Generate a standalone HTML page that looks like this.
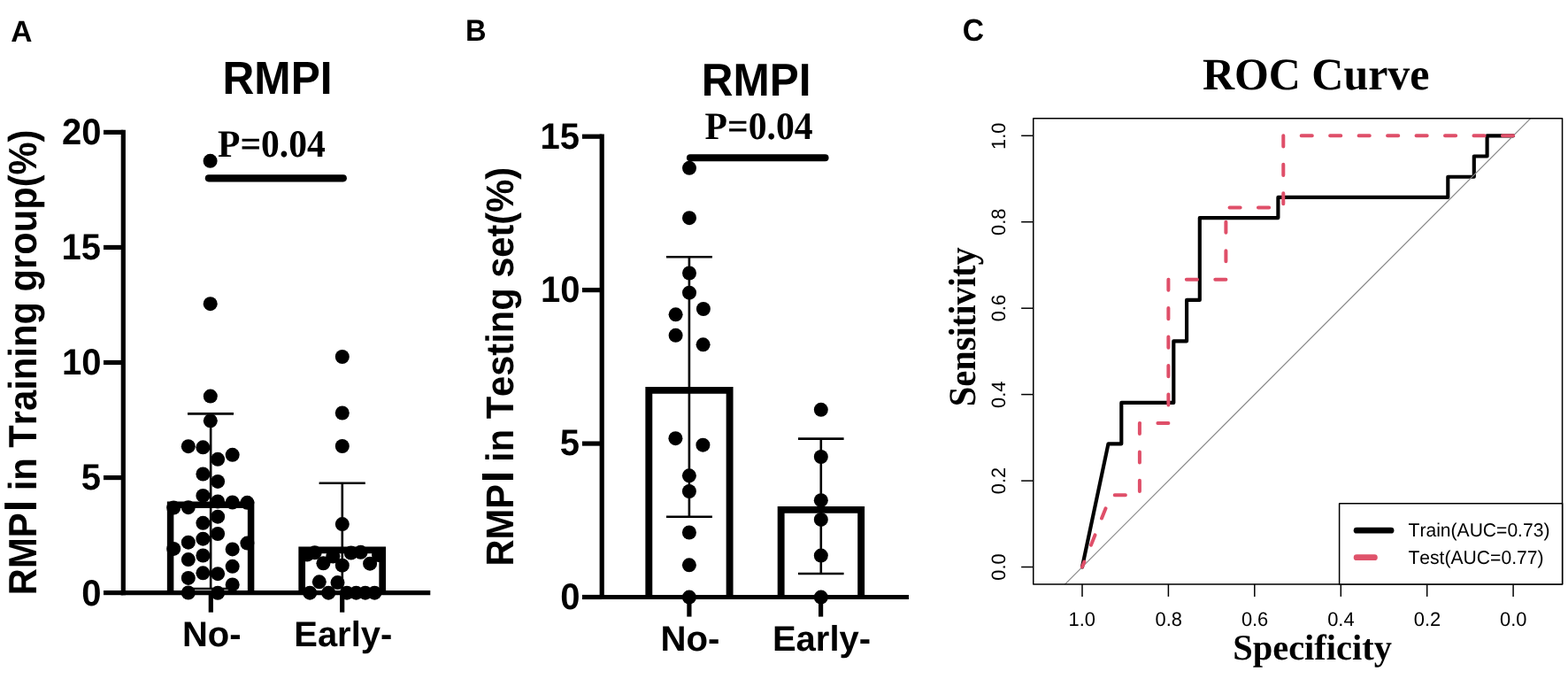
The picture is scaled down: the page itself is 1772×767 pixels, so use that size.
<!DOCTYPE html>
<html lang="en">
<head>
<meta charset="utf-8">
<title>RMPI figure</title>
<style>
html,body{margin:0;padding:0;background:#fff;}
body{width:1772px;height:767px;overflow:hidden;}
svg{display:block;}
text{font-kerning:none;font-variant-ligatures:none;text-rendering:geometricPrecision;fill:#000;}
.sb{font-family:"Liberation Sans",Arial,Helvetica,sans-serif;font-weight:700;}
.sr{font-family:"Liberation Sans",Arial,Helvetica,sans-serif;font-weight:400;}
.tb{font-family:"Liberation Serif","Times New Roman",Times,serif;font-weight:700;}
</style>
</head>
<body>
<svg width="1772" height="767" viewBox="0 0 1772 767">
<rect width="1772" height="767" fill="#fff"/>
<g id="panelA">
<text class="sb" transform="translate(12.16 46.50) scale(1.0000 1.0033)" font-size="33.54">A</text>
<text class="sb" transform="translate(251.48 106.00) scale(1.0000 1.0546)" font-size="49.62">RMPI</text>
<text class="sb" transform="translate(40.94 672.19) rotate(-90) scale(1.0000 1.0706)" font-size="41.73">RMP<tspan font-size="116.67%" dx="1.2">I</tspan><tspan dx="-1.2"> in Training group(%)</tspan></text>
<text class="sb" transform="translate(69.96 163.30) scale(1.0000 1.0350)" font-size="39.99">20</text>
<text class="sb" transform="translate(69.44 293.13) scale(1.0000 1.0350)" font-size="39.99">15</text>
<text class="sb" transform="translate(69.96 423.40) scale(1.0000 1.0350)" font-size="39.99">10</text>
<text class="sb" transform="translate(91.67 553.23) scale(1.0000 1.0350)" font-size="39.99">5</text>
<text class="sb" transform="translate(92.20 683.50) scale(1.0000 1.0350)" font-size="39.99">0</text>
<g fill="none" stroke="#000" stroke-width="7.3" stroke-linejoin="miter">
<path d="M192.6 669.6V570.3H283.6V669.6" stroke-width="7.5"/>
<path d="M341.2 669.6V621.4H432.2V669.6" stroke-width="7.7"/>
</g>
<g fill="none" stroke="#000" stroke-width="5.2">
<path d="M139.3 146.8V672.2"/>
<path d="M136.7 669.6H486.3"/>
<path d="M117.0 149.40H139.3"/>
<path d="M117.0 279.45H139.3"/>
<path d="M117.0 409.50H139.3"/>
<path d="M117.0 539.55H139.3"/>
<path d="M117.0 669.60H139.3"/>
<path d="M238.3 669.6V691.7"/>
<path d="M386.7 669.6V691.7"/>
</g>
<g fill="none" stroke="#000" stroke-width="2.6">
<path d="M238.15 467.4V665M212 467.4H264M212 665H264"/>
<path d="M386.8 545.8V669.5M360.6 545.8H412.8"/>
</g>
<path d="M235.85 201.35H387.85" stroke="#000" stroke-width="8.1" stroke-linecap="round" fill="none"/>
<text class="tb" transform="translate(245.99 176.90) scale(1.0000 1.0488)" font-size="41.57">P=0.04</text>
<g fill="#000">
<circle cx="237.6" cy="181.8" r="8.0"/>
<circle cx="237.7" cy="343.2" r="8.0"/>
<circle cx="237.8" cy="447.6" r="8.0"/>
<circle cx="237.8" cy="475.3" r="8.0"/>
<circle cx="212.8" cy="504.2" r="8.0"/>
<circle cx="229.4" cy="505.3" r="8.0"/>
<circle cx="246.1" cy="518.8" r="8.0"/>
<circle cx="262.7" cy="513.8" r="8.0"/>
<circle cx="229.4" cy="535.5" r="8.0"/>
<circle cx="246.1" cy="543.9" r="8.0"/>
<circle cx="229.4" cy="559.9" r="8.0"/>
<circle cx="246.1" cy="566.5" r="8.0"/>
<circle cx="262.7" cy="567.5" r="8.0"/>
<circle cx="279.4" cy="567.8" r="8.0"/>
<circle cx="196.2" cy="573.6" r="8.0"/>
<circle cx="212.8" cy="573.2" r="8.0"/>
<circle cx="246.1" cy="583.7" r="8.0"/>
<circle cx="229.4" cy="590.8" r="8.0"/>
<circle cx="246.1" cy="603.0" r="8.0"/>
<circle cx="229.4" cy="608.7" r="8.0"/>
<circle cx="212.8" cy="612.7" r="8.0"/>
<circle cx="279.4" cy="613.6" r="8.0"/>
<circle cx="196.2" cy="619.9" r="8.0"/>
<circle cx="262.7" cy="620.4" r="8.0"/>
<circle cx="229.4" cy="627.5" r="8.0"/>
<circle cx="212.8" cy="632.1" r="8.0"/>
<circle cx="262.7" cy="639.8" r="8.0"/>
<circle cx="229.4" cy="647.3" r="8.0"/>
<circle cx="246.1" cy="648.2" r="8.0"/>
<circle cx="212.8" cy="652.9" r="8.0"/>
<circle cx="262.7" cy="660.4" r="8.0"/>
<circle cx="212.8" cy="669.5" r="8.0"/>
<circle cx="246.1" cy="669.8" r="8.0"/>
<circle cx="386.8" cy="403.0" r="8.0"/>
<circle cx="386.8" cy="466.5" r="8.0"/>
<circle cx="386.8" cy="504.0" r="8.0"/>
<circle cx="386.8" cy="592.1" r="8.0"/>
<circle cx="347.0" cy="626.5" r="8.0"/>
<circle cx="355.7" cy="624.3" r="8.0"/>
<circle cx="376.3" cy="628.6" r="8.0"/>
<circle cx="396.7" cy="624.6" r="8.0"/>
<circle cx="407.6" cy="623.8" r="8.0"/>
<circle cx="428.0" cy="627.0" r="8.0"/>
<circle cx="365.4" cy="636.3" r="8.0"/>
<circle cx="386.8" cy="638.7" r="8.0"/>
<circle cx="418.1" cy="636.7" r="8.0"/>
<circle cx="360.8" cy="657.3" r="8.0"/>
<circle cx="381.5" cy="658.1" r="8.0"/>
<circle cx="350.2" cy="669.7" r="8.0"/>
<circle cx="371.2" cy="669.7" r="8.0"/>
<circle cx="392.0" cy="669.7" r="8.0"/>
<circle cx="402.5" cy="669.7" r="8.0"/>
<circle cx="412.8" cy="669.7" r="8.0"/>
<circle cx="423.3" cy="669.7" r="8.0"/>
</g>
<text class="sb" transform="translate(205.93 730.40) scale(1.0000 1.0039)" font-size="39.96">No-</text>
<text class="sb" transform="translate(332.23 730.40) scale(1.0000 1.0038)" font-size="39.96">Early-</text>
</g>
<g id="panelB">
<text class="sb" transform="translate(525.92 46.30) scale(1.0000 1.0424)" font-size="32.63">B</text>
<text class="sb" transform="translate(792.69 107.75) scale(1.0000 1.0515)" font-size="49.49">RMPI</text>
<text class="sb" transform="translate(580.30 639.49) rotate(-90) scale(1.0000 1.0509)" font-size="41.63">RMP<tspan font-size="116.67%" dx="1.8">I</tspan><tspan dx="-1.8"> in Testing set(%)</tspan></text>
<text class="sb" transform="translate(610.54 167.53) scale(1.0000 1.0350)" font-size="39.99">15</text>
<text class="sb" transform="translate(611.06 341.18) scale(1.0000 1.0350)" font-size="39.99">10</text>
<text class="sb" transform="translate(632.77 514.39) scale(1.0000 1.0350)" font-size="39.99">5</text>
<text class="sb" transform="translate(633.30 688.04) scale(1.0000 1.0350)" font-size="39.99">0</text>
<g fill="none" stroke="#000" stroke-width="7.3" stroke-linejoin="miter">
<path d="M733.3 674.5V440.9H824.6V674.5" stroke-width="7.9"/>
<path d="M882.65 674.5V575.9H973.15V674.5" stroke-width="7.9"/>
</g>
<g fill="none" stroke="#000" stroke-width="5.2">
<path d="M680.2 151.6V677.1"/>
<path d="M677.6 674.5H1027"/>
<path d="M657.9 154.20H680.2"/>
<path d="M657.9 327.63H680.2"/>
<path d="M657.9 501.06H680.2"/>
<path d="M657.9 674.49H680.2"/>
<path d="M778.9 674.5V696.6"/>
<path d="M927.6 674.5V696.6"/>
</g>
<g fill="none" stroke="#000" stroke-width="2.6">
<path d="M778.9 290.2V583.7M753 290.2H804.9M753 583.7H804.9"/>
<path d="M927.8 495.6V648M902 495.6H953.6M902 648H953.6"/>
</g>
<path d="M780 178.2H932.5" stroke="#000" stroke-width="8.1" stroke-linecap="round" fill="none"/>
<text class="tb" transform="translate(796.59 156.90) scale(1.0000 1.0467)" font-size="41.66">P=0.04</text>
<g fill="#000">
<circle cx="779.0" cy="189.8" r="8.0"/>
<circle cx="779.0" cy="246.2" r="8.0"/>
<circle cx="779.0" cy="308.5" r="8.0"/>
<circle cx="779.0" cy="330.7" r="8.0"/>
<circle cx="794.9" cy="349.0" r="8.0"/>
<circle cx="763.6" cy="355.3" r="8.0"/>
<circle cx="763.6" cy="378.8" r="8.0"/>
<circle cx="794.6" cy="389.3" r="8.0"/>
<circle cx="763.4" cy="495.2" r="8.0"/>
<circle cx="794.4" cy="502.7" r="8.0"/>
<circle cx="778.9" cy="537.3" r="8.0"/>
<circle cx="778.9" cy="555.0" r="8.0"/>
<circle cx="778.9" cy="601.5" r="8.0"/>
<circle cx="778.9" cy="638.3" r="8.0"/>
<circle cx="778.9" cy="674.6" r="8.0"/>
<circle cx="927.8" cy="462.8" r="8.0"/>
<circle cx="927.8" cy="516.0" r="8.0"/>
<circle cx="927.8" cy="565.2" r="8.0"/>
<circle cx="927.8" cy="586.9" r="8.0"/>
<circle cx="927.8" cy="627.6" r="8.0"/>
<circle cx="927.8" cy="674.6" r="8.0"/>
</g>
<text class="sb" transform="translate(746.51 735.00) scale(1.0000 0.9991)" font-size="40.15">No-</text>
<text class="sb" transform="translate(872.92 735.00) scale(1.0000 1.0029)" font-size="40.00">Early-</text>
</g>
<g id="panelC">
<text class="sb" transform="translate(1087.72 46.11) scale(1.0000 1.0410)" font-size="33.65">C</text>
<text class="tb" transform="translate(1358.95 101.15) scale(1.0000 1.0201)" font-size="49.93">ROC Curve</text>
<text class="tb" transform="translate(1393.15 745.30) scale(1.0000 1.0075)" font-size="40.48">Specificity</text>
<text class="tb" transform="translate(1101.68 459.36) rotate(-90) scale(1.0000 1.0686)" font-size="40.53">Sensitivity</text>
<path d="M1223.0 640.5L1252.5 501.3L1267.3 501.3L1267.3 454.9L1326.3 454.9L1326.3 385.3L1341.1 385.3L1341.1 338.9L1355.8 338.9L1355.8 246.1L1444.4 246.1L1444.4 222.9L1636.3 222.9L1636.3 199.7L1665.8 199.7L1665.8 176.5L1680.6 176.5L1680.6 153.3L1710.1 153.3" stroke="#000" stroke-width="4.15" fill="none" stroke-linejoin="round" stroke-linecap="round"/>
<path d="M1203.4 660.1L1729.6 133.8" stroke="#878787" stroke-width="1.2" fill="none"/>
<path d="M1710.1 153.3L1450.3 153.3L1450.3 234.5L1385.4 234.5L1385.4 315.7L1320.4 315.7L1320.4 478.1L1287.9 478.1L1287.9 559.3L1255.5 559.3L1223.0 640.5" stroke="#df4f69" stroke-width="4.0" fill="none" stroke-linejoin="round" stroke-linecap="round" stroke-dasharray="12.15 20.32"/>
<g fill="none" stroke="#000" stroke-width="1.5">
<rect x="1167.75" y="133.8" width="597.8" height="526.3" stroke-linejoin="round"/>
<path d="M1710.1 660.1V673.9"/>
<path d="M1167.75 640.5H1154.15"/>
<path d="M1612.7 660.1V673.9"/>
<path d="M1167.75 543.1H1154.15"/>
<path d="M1515.3 660.1V673.9"/>
<path d="M1167.75 445.6H1154.15"/>
<path d="M1417.8 660.1V673.9"/>
<path d="M1167.75 348.2H1154.15"/>
<path d="M1320.4 660.1V673.9"/>
<path d="M1167.75 250.7H1154.15"/>
<path d="M1223.0 660.1V673.9"/>
<path d="M1167.75 153.3H1154.15"/>
</g>
<text class="sr" transform="translate(1695.09 707.28) scale(1.0000 1.0133)" font-size="21.88">0.0</text>
<text class="sr" transform="translate(1136.38 655.71) rotate(-90) scale(1.0000 1.0133)" font-size="21.88">0.0</text>
<text class="sr" transform="translate(1597.79 707.28) scale(1.0000 1.0133)" font-size="21.88">0.2</text>
<text class="sr" transform="translate(1136.38 558.15) rotate(-90) scale(1.0000 1.0133)" font-size="21.88">0.2</text>
<text class="sr" transform="translate(1500.14 707.28) scale(1.0000 1.0133)" font-size="21.88">0.4</text>
<text class="sr" transform="translate(1136.38 460.94) rotate(-90) scale(1.0000 1.0133)" font-size="21.88">0.4</text>
<text class="sr" transform="translate(1402.88 707.28) scale(1.0000 1.0133)" font-size="21.88">0.6</text>
<text class="sr" transform="translate(1136.38 363.34) rotate(-90) scale(1.0000 1.0133)" font-size="21.88">0.6</text>
<text class="sr" transform="translate(1305.46 707.28) scale(1.0000 1.0133)" font-size="21.88">0.8</text>
<text class="sr" transform="translate(1136.38 265.90) rotate(-90) scale(1.0000 1.0133)" font-size="21.88">0.8</text>
<text class="sr" transform="translate(1207.58 707.28) scale(1.0000 1.0133)" font-size="21.88">1.0</text>
<text class="sr" transform="translate(1136.38 168.92) rotate(-90) scale(1.0000 1.0133)" font-size="21.88">1.0</text>
<rect x="1513.6" y="568.8" width="252.0" height="91.3" fill="#fff" stroke="#000" stroke-width="1.5" stroke-linejoin="round"/>
<path d="M1533.1 599.2H1572" stroke="#000" stroke-width="6.8" stroke-linecap="round" fill="none"/>
<path d="M1533.1 629.7H1553.4" stroke="#df536b" stroke-width="6.8" stroke-linecap="round" fill="none"/>
<text class="sr" transform="translate(1591.53 606.40) scale(1.0000 1.0132)" font-size="21.09">Train(AUC=0.73)</text>
<text class="sr" transform="translate(1591.43 637.30) scale(1.0000 1.0123)" font-size="21.11">Test(AUC=0.77)</text>
</g>
</svg>
</body>
</html>
